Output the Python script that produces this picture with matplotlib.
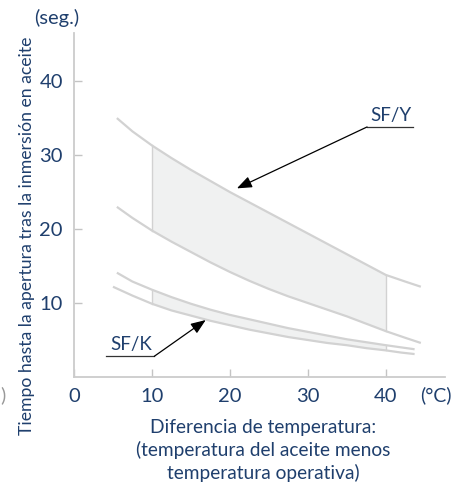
import matplotlib
matplotlib.use("Agg")
import matplotlib.pyplot as plt
import numpy as np

# ---- data ----
y_x = [5.5, 7.5, 10, 12.5, 15, 17.5, 20, 22.5, 25, 27.5, 30, 32.5, 35, 37.5, 40, 42.5, 44.5]
sfy_upper = [35.0, 33.2, 31.3, 29.6, 28.0, 26.5, 25.0, 23.6, 22.2, 20.8, 19.4, 18.0, 16.6, 15.2, 13.8, 12.9, 12.2]
sfy_lower = [23.0, 21.5, 19.8, 18.3, 16.9, 15.5, 14.2, 13.0, 11.9, 10.9, 10.0, 9.1, 8.2, 7.2, 6.2, 5.3, 4.6]

k_lo_x = [5.0, 7.5, 10, 12.5, 15, 17.5, 20, 22.5, 25, 27.5, 30, 32.5, 35, 37.5, 40, 42, 43.7]
sfk_lower = [12.2, 11.0, 9.9, 9.0, 8.3, 7.6, 7.0, 6.4, 5.9, 5.4, 5.0, 4.6, 4.3, 3.9, 3.6, 3.3, 3.1]
k_hi_x = [5.5, 7.5, 10, 12.5, 15, 17.5, 20, 22.5, 25, 27.5, 30, 32.5, 35, 37.5, 40, 42, 43.7]
sfk_upper = [14.1, 12.9, 11.8, 10.8, 9.9, 9.1, 8.4, 7.8, 7.2, 6.6, 6.1, 5.6, 5.1, 4.7, 4.3, 4.0, 3.75]

band_lo, band_hi = 10, 40
x_ticks = [0, 10, 20, 30, 40]
y_ticks = [10, 20, 30, 40]

txt = '#1f3f6d'
curve_c = '#d2d2d2'
fill_c = '#f0f1f1'
plt.rcParams['font.family'] = ['Lato', 'DejaVu Sans']

W, H = 471, 488
fig = plt.figure(figsize=(W / 100, H / 100), dpi=100)
ax = fig.add_axes([74 / W, 1 - 377 / H, (445 - 74) / W, (377 - 33) / H])
ax.set_xlim(0, 47.6)
ax.set_ylim(0, 46.5)

# SF/Y band
yx = np.array(y_x); yu = np.array(sfy_upper); yl = np.array(sfy_lower)
m = (yx >= band_lo) & (yx <= band_hi)
ax.fill_between(yx[m], yl[m], yu[m], color=fill_c, lw=0, zorder=1)
for xv in (band_lo, band_hi):
    i = y_x.index(xv)
    ax.plot([xv, xv], [sfy_lower[i], sfy_upper[i]], color=curve_c, lw=1.0, zorder=2)
ax.plot(y_x, sfy_upper, color=curve_c, lw=1.6, zorder=3, solid_capstyle='butt')
ax.plot(y_x, sfy_lower, color=curve_c, lw=1.6, zorder=3, solid_capstyle='butt')

# SF/K band
kx = np.array(k_lo_x); kl = np.array(sfk_lower); ku = np.array(sfk_upper)
m = (kx >= band_lo) & (kx <= band_hi)
ax.fill_between(kx[m], kl[m], ku[m], color=fill_c, lw=0, zorder=1)
for xv in (band_lo, band_hi):
    i = k_lo_x.index(xv)
    ax.plot([xv, xv], [sfk_lower[i], sfk_upper[i]], color=curve_c, lw=1.0, zorder=2)
ax.plot(k_hi_x, sfk_upper, color=curve_c, lw=1.6, zorder=3, solid_capstyle='butt')
ax.plot(k_lo_x, sfk_lower, color=curve_c, lw=1.6, zorder=3, solid_capstyle='butt')

# spines / ticks
for s in ('top', 'right'):
    ax.spines[s].set_visible(False)
for s in ('left', 'bottom'):
    ax.spines[s].set_color('#cccccc')
    ax.spines[s].set_linewidth(1.3)
ax.set_xticks(x_ticks)
ax.set_yticks(y_ticks)
ax.tick_params(direction='in', length=6, width=1.0, color='#c4c4c4',
               labelsize=14.5, labelcolor=txt, pad=8)

# annotations
def label(text, x0, x1, yl_, tipx, tipy, from_right):
    ax.plot([x0, x1], [yl_, yl_], color='#333333', lw=0.9, zorder=5, clip_on=False)
    ax.text((x0 + x1) / 2 + 0.15, yl_ + 0.4, text, ha='center', va='bottom',
            fontsize=13.5, color=txt)
    sx = x0 if from_right else x1
    ax.annotate('', xy=(tipx, tipy), xytext=(sx, yl_),
                arrowprops=dict(arrowstyle='-|>,head_length=0.9,head_width=0.35',
                                color='black', lw=0.9, shrinkA=0, shrinkB=0), zorder=6)

label('SF/Y', 37.6, 43.5, 33.8, 20.9, 25.5, True)
label('SF/K', 4.1, 10.3, 2.8, 16.9, 7.7, False)

# texts
fig.text(56.5 / W, 1 - 18 / H, '(seg.)', ha='center', va='center', fontsize=14.5, color=txt)
fig.text(436 / W, 1 - 395 / H, '(°C)', ha='center', va='center', fontsize=14, color=txt)
fig.text(3 / W, 1 - 395 / H, ')', ha='center', va='center', fontsize=14, color='#999999')
fig.text(27 / W, 1 - 236 / H, 'Tiempo hasta la apertura tras la inmersión en aceite',
         ha='center', va='center', rotation=90, fontsize=12.7, color=txt)
for yy, line in zip((427, 450, 473), ('Diferencia de temperatura:',
                                     '(temperatura del aceite menos',
                                     'temperatura operativa)')):
    fig.text(263 / W, 1 - yy / H, line, ha='center', va='center', fontsize=13.8, color=txt)

fig.savefig('out.png', dpi=100)
